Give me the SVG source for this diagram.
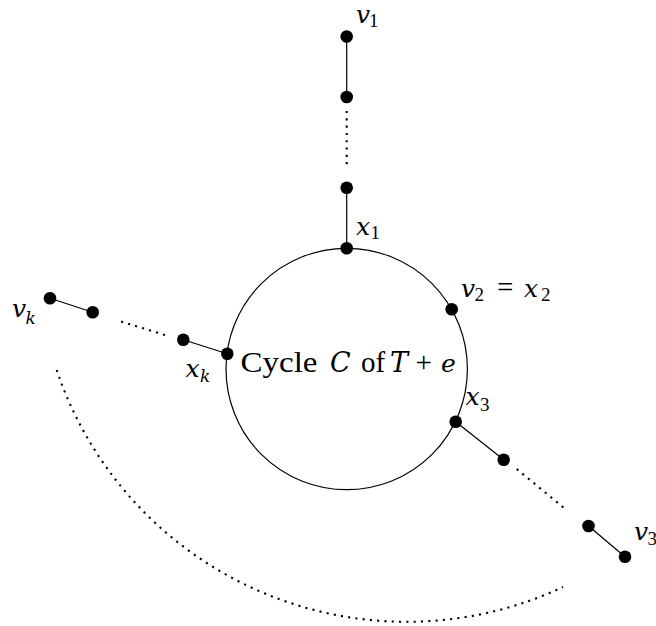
<svg xmlns="http://www.w3.org/2000/svg" width="656" height="626" viewBox="0 0 656 626">
<style>
.edge{stroke:#000;stroke-width:1.2;fill:none}
.dot{stroke:#000;stroke-width:2.1;fill:none;stroke-dasharray:2.1 5.2}
.node{fill:#000}
text{font-family:"Liberation Serif","Times New Roman",serif;fill:#000}
.m{font-family:"DejaVu Serif",serif;font-style:italic;font-size:25px}
.lbl{font-size:29px}
.sub{font-size:19px}
.sub.m{font-size:17px}
</style>
<rect width="656" height="626" fill="#fff"/>
<g id="connectors">
<circle class="edge" cx="346.7" cy="369" r="120.7"/>
<line class="edge" x1="346.7" y1="36" x2="346.7" y2="97"/>
<line class="dot" x1="346.7" y1="111" x2="346.7" y2="166"/>
<line class="edge" x1="346.7" y1="187.7" x2="346.7" y2="248.3"/>
<line class="edge" x1="455.7" y1="421.7" x2="503.7" y2="459.7"/>
<line class="dot" x1="516.7" y1="469" x2="564" y2="508"/>
<line class="edge" x1="588.5" y1="526" x2="625" y2="556.7"/>
<line class="edge" x1="227.3" y1="353.7" x2="183.3" y2="339.7"/>
<line class="dot" x1="165" y1="335" x2="121" y2="321.5"/>
<line class="edge" x1="92.7" y1="312.3" x2="50" y2="298.3"/>
<path class="dot" d="M 56.7 370 A 369 369 0 0 0 563 587"/>
</g>
<g id="v1"><circle class="node" cx="346.7" cy="36.5" r="6.3"/></g>
<g id="p1a"><circle class="node" cx="346.7" cy="97" r="6.3"/></g>
<g id="p1b"><circle class="node" cx="346.7" cy="187.7" r="6.3"/></g>
<g id="x1"><circle class="node" cx="346.7" cy="248.3" r="6.3"/></g>
<g id="x2"><circle class="node" cx="451.7" cy="309.3" r="6.3"/></g>
<g id="x3"><circle class="node" cx="455.7" cy="421.7" r="6.3"/></g>
<g id="p3a"><circle class="node" cx="503.7" cy="459.7" r="6.3"/></g>
<g id="p3b"><circle class="node" cx="588.5" cy="526" r="6.3"/></g>
<g id="v3"><circle class="node" cx="625" cy="556.7" r="6.3"/></g>
<g id="xk"><circle class="node" cx="227.3" cy="353.7" r="6.3"/></g>
<g id="pka"><circle class="node" cx="183.3" cy="339.7" r="6.3"/></g>
<g id="pkb"><circle class="node" cx="92.7" cy="312.3" r="6.3"/></g>
<g id="vk"><circle class="node" cx="50" cy="298.3" r="6.3"/></g>
<g id="labels">
<text class="lbl"><tspan class="m" x="356" y="22.5">v</tspan><tspan class="sub" x="369" y="26.5">1</tspan></text>
<text class="lbl"><tspan class="m" x="356" y="235">x</tspan><tspan class="sub" x="370.5" y="239">1</tspan></text>
<text class="lbl"><tspan class="m" x="461" y="297">v</tspan><tspan class="sub" x="474.5" y="301">2</tspan><tspan x="497" y="297">=</tspan><tspan class="m" x="524" y="297">x</tspan><tspan class="sub" x="541" y="301">2</tspan></text>
<text class="lbl"><tspan class="m" x="465.5" y="405">x</tspan><tspan class="sub" x="480" y="410.5">3</tspan></text>
<text class="lbl"><tspan class="m" x="634" y="540">v</tspan><tspan class="sub" x="647.5" y="544.5">3</tspan></text>
<text class="lbl"><tspan class="m" x="12" y="317">v</tspan><tspan class="sub m" x="25.5" y="324">k</tspan></text>
<text class="lbl"><tspan class="m" x="185.5" y="377">x</tspan><tspan class="sub m" x="200" y="382">k</tspan></text>
<text class="lbl"><tspan x="240.5" y="372" textLength="77" lengthAdjust="spacingAndGlyphs">Cycle</tspan><tspan class="m" x="330" y="372" style="font-size:27px">C</tspan><tspan x="361" y="372">of</tspan><tspan class="m" x="390" y="372" style="font-size:27px">T</tspan><tspan x="415.5" y="372">+</tspan><tspan class="m" x="441" y="372">e</tspan></text>
</g>
</svg>
